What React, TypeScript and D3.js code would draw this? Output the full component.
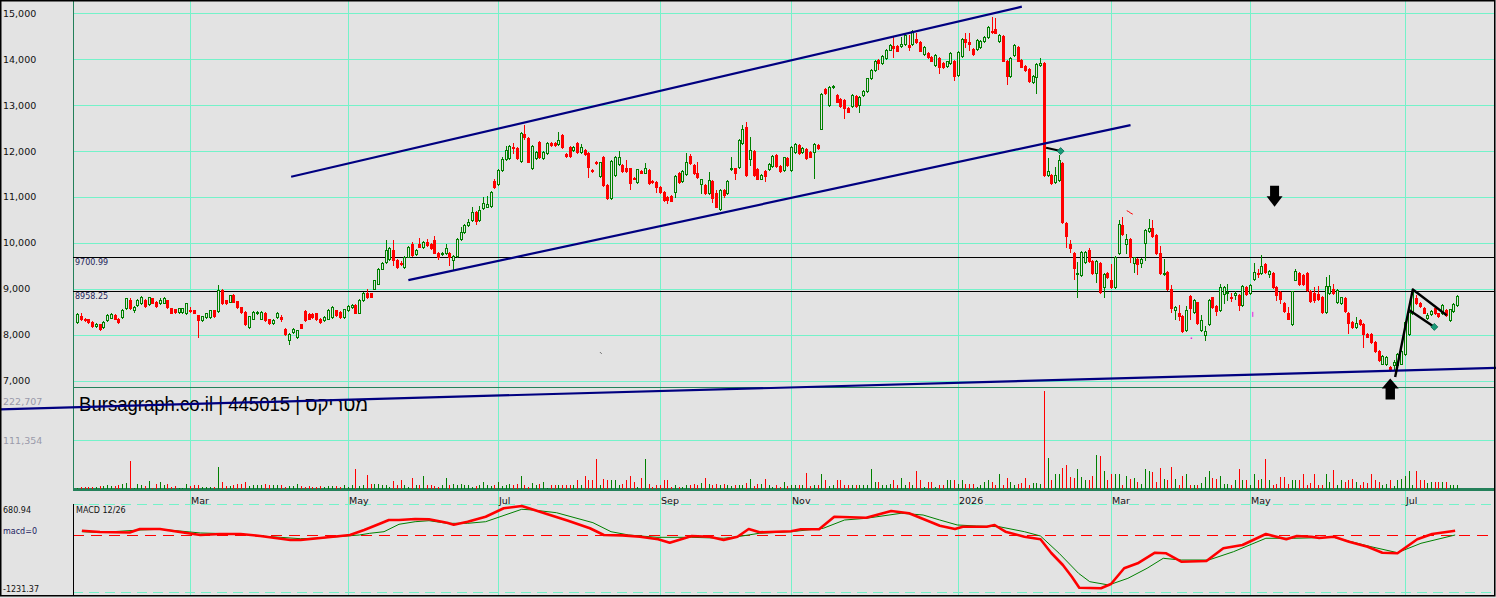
import React from "react";
import * as d3 from "d3";

// ---------- DATA ----------
// candle index where each month starts
const monthIdx = [30, 70, 110, 153, 188, 232, 273, 310, 351];
const monthLabels = ["Mar", "May", "Jul", "Sep", "Nov", "2026", "Mar", "May", "Jul"];
const priceTicks = [7000, 8000, 9000, 10000, 11000, 12000, 13000, 14000, 15000];
const levelLines = [9700.99, 8958.25];
const volTicks = [222707, 111354];
const macdTicks = [680.94, -1231.37];

const opens = [
  8280,8400,8350,8330,8280,8180,8230,8170,8310,8370, 8420,8350,8390,8570,8760,8530,8640,8680,8760,8660,
  8790,8710,8680,8690,8750,8570,8550,8500,8500,8460, 8530,8530,8420,8310,8390,8390,8530,8510,8970,8750,
  8710,8870,8730,8600,8500,8170,8350,8460,8350,8470, 8330,8260,8390,8390,8130,7880,8060,7950,8230,8520,
  8440,8440,8460,8350,8310,8350,8390,8530,8500,8390, 8530,8600,8640,8470,8750,8900,8900,9000,9110,9440,
  9590,9640,9850,9620,
  9560,9480,9700,9970,9750,9970,
  9910,10010,9970,10070,9780,9750,9770,9770,9620,9710, 10090,10240,10390,10490,10680,10490,10760,10790,10800,11340,
  11280,11580,11820,11840,12090,12060,11790,12380,12290,11620, 11840,12200,11840,11960,12170,12170,12150,12350,11930,12090,
  12020,12180,11980,12020,11950,11580,11770,11450,11880,11260, 10970,11480,11720,11690,11640,11620,11410,11330,11570,11530,
  11580,11340,11330,11210,11110,11000,11020,11110,11530,11350, 11500,11890,11690,11530,11280,11260,11090,11350,11080,10730,
  11160,11080,11600,11620,11660,12170,12530,
  11820,12000,11600,
  11400,11570,11610,11670,11910,11670,11580,11850,11580,11980, 12130,11980,12040,11980,11980,12130,12490,13350,13000,13390,
  13220,13130,13110,12940,12970,13200,13000,13220,13310,13580, 13760,13980,13910,14020,14210,14290,14290,14290,14340,14310,
  14330,14430,14370,14110,14140,14040,13870,14020,13910,13850, 13910,13970,13660,14070,14430,14380,14220,14220,14270,14400,
  14490,14620,14650,14400,14510,13970,13630,14090,14270,13980, 13850,13780,13510,13620,13870,13910,11480,11480,11330,11370,
  11740,
  10440,9970,9780,9320,9300,9590,9840,9610,9350,
  9560,9040,9350,9190,9040,9770,10380,9970,10090,9560, 9640,9550,10000,10260,10330,10170,9780,9310,9370,8990,
  8530,8470,8410,8100,8840,8500,8700,8100,7990,8230, 8810,8620,8530,8880,8900,8820,8860,8860,8640,9040,
  8900,9220,9350,9350,9540,9330,9350,9040,
  8930,8690,
  8470,8240,9200,9350,9300,9350,8950,8900,8880,8820, 8500,8900,9000,8710,8690,8790,8470,8280,8170,8310,
  8230,8020,8010,7840,7650,7370,7360,7300,7330,7330, 7370,7570,8020,8460,8790,8690,8590,8370,8440,8570,
  8460,8460,8530,8310,8520,8640,
];
const highs = [
  8460,8460,8370,8350,8290,8260,8240,8290,8440,8460, 8440,8370,8550,8800,8790,8620,8780,8840,8780,8830,
  8800,8730,8800,8810,8760,8580,8560,8580,8580,8690, 8600,8540,8430,8410,8470,8540,8540,9080,8990,8760,
  8870,8890,8740,8610,8510,8410,8510,8510,8510,8490, 8340,8330,8490,8420,8150,8040,8150,8110,8240,8530,
  8460,8460,8470,8360,8400,8550,8620,8540,8510,8560, 8640,8660,8660,8780,8930,9000,8910,9200,9460,9580,
  10060,9900,10060,9640,
  9600,9720,9930,10020,9860,10110,
  10040,10090,9990,10150,9800,9800,9970,9790,9740,10110, 10350,10400,10510,10790,10700,10800,11000,11020,11130,11400,
  11600,11880,12110,12120,12170,12080,12420,12570,12310,12120, 12000,12220,12000,12200,12200,12190,12420,12370,11950,12110,
  12110,12200,12160,12040,11970,11600,11790,11770,11900,11280, 11800,11890,12010,11710,11800,11640,11430,11610,11590,11730,
  11600,11360,11350,11230,11130,11020,11040,11470,11550,11590, 11950,11930,11710,11770,11400,11280,11550,11370,11150,11180,
  11180,11370,11880,11640,12270,12570,12640,
  12310,12020,11620,
  11490,11590,11730,11910,11930,11690,11880,11870,12100,12170, 12150,12080,12060,12000,12170,12150,13260,13370,13420,13430,
  13240,13150,13130,12960,13240,13220,13200,13330,13600,13780, 13990,14000,14090,14230,14330,14490,14310,14490,14540,14530,
  14640,14560,14390,14290,14160,14060,14110,14040,13930,13960, 14150,13990,14180,14470,14560,14560,14240,14440,14420,14510,
  14730,14930,14890,14550,14530,13990,14040,14330,14290,14000, 13870,13800,13650,13910,14020,13930,11840,11500,11650,11910,
  11760,
  10460,10070,9800,9590,9820,9820,9880,9630,9630,
  9580,9340,9370,9530,9720,10500,10570,10200,10110,9700, 9660,9660,10300,10510,10490,10190,9930,9640,9390,9080,
  8620,8640,8430,8630,8860,8770,8720,8420,8180,8770, 8830,8640,9100,9060,9110,8900,8950,8880,9080,9060,
  9100,9550,9440,9730,9560,9400,9370,9060,
  8950,8710,
  8600,8960,9440,9370,9320,9370,8970,9040,9050,8840, 9260,9300,9110,9000,8830,8810,8490,8300,8390,8330,
  8250,8040,8030,7860,7670,7550,7530,7310,7440,7590, 7660,8290,8500,8940,8860,8710,8610,8460,8530,8590,
  8480,8660,8550,8560,8680,8860,
];
const lows = [
  8260,8320,8300,8260,8170,8160,8100,8150,8300,8360, 8330,8260,8370,8560,8550,8500,8620,8660,8600,8640,
  8680,8600,8660,8680,8590,8460,8480,8480,8480,8440, 8500,8460,7950,8300,8370,8370,8380,8500,8660,8660,
  8700,8700,8590,8480,8200,8150,8340,8440,8340,8300, 8240,8240,8370,8290,8000,7790,8040,7930,8140,8300,
  8340,8360,8310,8260,8300,8340,8370,8410,8370,8370, 8520,8590,8460,8460,8730,8800,8810,8990,9100,9430,
  9570,9620,9510,9460,
  9520,9460,9680,9710,9730,9900,
  9890,9930,9860,9770,9650,9730,9750,9510,9420,9690, 10070,10220,10370,10470,10420,10470,10740,10770,10780,11200,
  11260,11560,11800,11820,11950,11820,11770,12270,11750,11600, 11820,11840,11820,11940,12100,12110,12130,12060,11870,11870,
  12000,11960,11960,11910,11440,11540,11710,11430,11240,10950, 10950,11460,11700,11550,11550,11180,11380,11310,11510,11510,
  11290,11310,11110,11090,10920,10860,10900,10990,11310,11330, 11480,11710,11490,11420,11090,11070,11070,10890,10770,10710,
  10990,11060,11580,11380,11640,12150,11460,
  11700,11460,11390,
  11380,11350,11590,11650,11650,11550,11560,11670,11560,11960, 11930,11960,11830,11860,11420,12040,12470,13240,12980,13370,
  13060,12950,12710,12840,12950,12950,12860,13200,13290,13560, 13740,13780,13890,14000,14190,14050,14170,14270,14320,14210,
  14310,14350,14170,14090,14020,13950,13850,13690,13800,13830, 13890,13550,13640,14050,14270,14210,14090,14200,14250,14380,
  14470,14560,14560,14380,13950,13460,13610,14070,13950,13820, 13740,13510,13490,13270,13850,11460,11460,11290,11310,11350,
  10440,
  9910,9800,9220,8820,9280,9570,9590,9330,9150,
  8910,8820,9240,9020,9020,9750,10180,9770,9590,9370, 9330,9480,9620,10240,10130,9760,9330,9290,8980,8500,
  8350,8310,8060,8080,8350,8480,8240,8080,7880,8210, 8590,8420,8510,8680,8750,8740,8770,8530,8620,8860,
  8880,9200,9260,9330,9350,9260,9020,8760,
  8690,8500,
  8330,8220,9180,9090,9080,8950,8710,8710,8750,8480, 8480,8880,8880,8690,8670,8500,8040,8150,8150,8210,
  7730,7940,7820,7630,7420,7350,7340,7210,7220,7310, 7350,7550,8000,8440,8660,8600,8460,8350,8420,8440,
  8380,8440,8400,8290,8500,8620,
];
const closes = [
  8440,8340,8330,8280,8190,8240,8130,8280,8420,8440, 8350,8280,8530,8790,8570,8600,8760,8820,8620,8810,
  8690,8620,8750,8790,8600,8470,8500,8570,8570,8680, 8510,8470,8310,8400,8460,8530,8400,8970,8680,8680,
  8860,8710,8600,8500,8240,8400,8500,8500,8500,8310, 8260,8310,8470,8350,8020,8020,8130,8100,8150,8310,
  8350,8380,8330,8280,8390,8530,8600,8420,8390,8550, 8620,8640,8470,8760,8910,8820,8820,9190,9440,9560,
  9850,9880,9620,9480,
  9540,9700,9910,9730,9840,9910,
  10020,9950,9880,9780,9700,9780,9880,9700,9720,10090, 10240,10390,10460,10680,10470,10710,10870,10840,11110,11220,
  11580,11820,12030,12110,12060,11840,12400,12310,11770,12110, 11980,11860,11980,12180,12140,12130,12250,12080,11890,11890,
  12090,11980,12080,11930,11660,11560,11730,11750,11260,10970, 11790,11880,11880,11570,11570,11310,11400,11600,11530,11620,
  11310,11330,11210,11110,10940,10930,10920,11450,11330,11570, 11770,11730,11510,11440,11380,11090,11370,10970,10790,11160,
  11040,11350,11620,11530,12250,12490,11480,
  12020,11480,11400,
  11480,11450,11720,11900,11670,11570,11860,11690,12080,12150, 11950,12060,11850,11870,12150,12060,13240,13260,13400,13410,
  13070,12970,12930,12860,13220,12970,13180,13310,13580,13760, 13970,13910,14070,14210,14310,14240,14180,14340,14530,14270,
  14620,14370,14180,14270,14040,13970,14090,13820,13820,13950, 14130,13630,14160,14450,14380,14330,14110,14420,14400,14490,
  14710,14590,14580,14530,13970,13630,14020,14310,13970,13840, 13760,13530,13630,13890,13920,11480,11560,11310,11480,11800,
  10460,
  10150,9880,9450,9340,9800,9800,9610,9350,9610,
  8930,9320,9260,9040,9700,10410,10200,10090,9680,9680, 9540,9640,10280,10330,10150,9780,9350,9350,9000,8570,
  8600,8410,8080,8530,8570,8750,8260,8310,8080,8750, 8610,8520,9040,9040,8930,8790,8900,8640,9060,8880,
  9080,9370,9330,9490,9370,9380,9040,8860,
  8770,8520,
  8350,8950,9390,9110,9110,8970,8740,8750,8770,8500, 9060,9060,8900,8980,8810,8520,8260,8170,8260,8230,
  8010,7950,7840,7650,7440,7530,7520,7220,7410,7570, 7650,8280,8500,8930,8680,8620,8470,8420,8510,8460,
  8400,8640,8420,8550,8660,8840,
];
// volume, thousands of shares
const volumes = [
  2,4,4,4,4,4,6,6,10,6, 6,8,12,14,64,2,12,10,6,19, 2,12,15,10,12,4,6,2,2,12, 6,10,10,4,4,4,4,49,17,6,
  6,8,12,12,17,6,10,8,8,12, 8,10,8,8,4,6,6,12,6,4, 6,4,4,6,4,6,6,6,4,10, 4,10,46,6,8,32,12,12,12,10, 10,4,19,8,
  20,10,4.5,26,10,10,29,8,10,6, 4.5,10,26,8,12,8,12,10,10,4.5, 6,8,17,8,6,10,15,6,8,12, 10,12,29,8,4.5,14,10,12,15,2,
  8,10,8,10,8,8,8,20,10,30, 21,20,69,10,23,21,20,21,8,12, 20,30,17,4.5,25,69,12,4.5,8,8, 21,20,4.5,8,4.5,4.5,8,8,12,10,
  14,25,12,8,12,8,12,8,6,8, 10,8,14,23,6,12,12,23,8,4.5, 8,4.5,15,6,8,8,8,10,36,6, 8,8,33,21,6,10,20,21,8,8,
  8,8,8,8,8,45,15,15,10,8, 12,21,8,25,8,15,8,42,21,4.5, 17,17,4.5,10,
  8,21,21,20,12,21,12,12,12,4.5, 8,17,20,17,10,35,10,25,17,8, 12,14,25,10,14,14,12,223,70,20, 35,35,48,55,27,25,45,27,20,20,
  30,78,74,40,21,33,33,33,8,29, 23,25,17,12,45,42,38,17,48,23, 20,50,23,10,29,33,8,8,8,14, 27,40,25,23,30,12,12,8,20,45,
  20,21,8,35,20,23,68,21,10,12, 27,27,12,20,21,21,33,8,14,33, 8,8,35,17,44,8,21,17,20,23, 17,8,17,14,33,20,17,8,12,21,
  6,20,23,30,40,8,40,20,21,14, 17,17,15,17,17,8,10,8,
];

// MACD 12/26 (red) and its signal (green), read at candle positions
const macdIdx = [1.3,6.1,14,16.7,22,27.3,32.6,37.7,42.8,47.8,55.4,58,63,68.1,70.5,74.3,78.3,80.9,83.6,87.9,91.6,96.4,98.2,101.9,106.7,111.5,116.3,121.1,128.6,134.4,138.1,143,147.7,152.5,155.6,161.5,166.3,170,173.7,176.7,179.6,188,190.6,195.4,199.4,207.8,214.4,219.1,225.6,227.2,231.2,233.3,239.7,241.8,244.7,249.8,254.1,257,260.1,262.5,264.5,270.3,273,276.5,280.1,284.7,287.7,291.7,298.4,302.9,308,314.2,319.6,322.4,326.3,328.3,332.2,336.2,341.1,345,349,354.3,358.3,364.5];
const macdVal = [101,72,61,138,138,72,7,29,29,-14,-101,-101,-58,-14,7,116,246,333,333,355,348,275,231,296,405,588,637,514,318,153,7,0,-30,-86,-160,-14,-30,-101,-30,138,66,88,131,131,405,383,529,479,261,209,138,188,188,225,79,-30,-86,-384,-645,-900,-1140,-1150,-1058,-716,-608,-377,-390,-573,-558,-282,-210,29,-86,-14,-30,-58,-30,-138,-247,-377,-390,-86,29,101];
const sigIdx = [1.3,6.1,16.7,22,27.3,32.6,42.8,47.8,58,63,68.1,73,75.8,79.6,83.6,87.9,91.6,96.4,101.9,106.7,116.3,119.2,125.5,135.2,140,144.7,152.2,161.5,170,173.7,179.5,188,196.5,202.1,207.8,217,222.8,227.2,231.8,236.9,243,249.8,254.1,259.1,264.3,267.3,272.4,277.5,282.6,286.9,291.7,299,305.6,314.2,321.6,332.2,342,349,355.3,364.5];
const sigVal = [79,61,116,131,94,51,29,-14,-73,-58,-25,7,44,79,240,296,318,261,261,296,566,551,492,275,79,7,-43,-43,-64,-30,44,79,153,333,370,479,442,333,225,203,188,79,-14,-390,-825,-1007,-1079,-934,-716,-499,-536,-536,-356,-64,-64,-43,-247,-377,-173,7];

// drawn trendlines: [candle index, price]
const channelTop = [[55.6, 11438], [249.1, 15144]];
const channelBottom = [[86.1, 9186], [278.2, 12565]];
const supportLine = [[0, 6419], [365, 7250]];
const flagPole = [[348.4, 7078], [353.1, 8983], [362.2, 8423]];
const flagLower = [[352.2, 8532], [358.9, 8168]];
const shortLine = [[255.6, 12070], [259.5, 11998]];
const arrowDown = [316.5, 10784];
const arrowUp = [347.1, 7043];

// ---------- LAYOUT ----------
const W = 1496, H = 598;
const L = 73, R = 1494;
const X_ANCHORS = [77, 190, 348, 498, 660, 791, 958, 1111, 1250, 1405, 1457];
const BG = "#e3e3e3";
const GRID = "#74f2c9";
const AXIS_GREEN = "#24805a";
const UP = "#008000";
const DOWN = "#ff0000";
const NAVY = "#000080";
const FONT = "'DejaVu Sans', sans-serif";

export default function App() {
  const n = Math.min(opens.length, highs.length, lows.length, closes.length);
  const x = d3.scaleLinear().domain([0, ...monthIdx, n - 1]).range(X_ANCHORS);
  const y = d3.scaleLinear().domain([7000, 15000]).range([380.5, 13.3]);
  const yv = d3.scaleLinear().domain([0, 222.707]).range([489, 391]);
  const ym = d3.scaleLinear().domain([-1231.37, 680.94]).range([592, 504]);

  const candles = [];
  const vols = [];
  for (let i = 0; i < n; i++) {
    const o = opens[i], c = closes[i], h = highs[i], l = lows[i];
    const up = c >= o;
    const p = Math.round(x(i));
    const top = Math.round(y(Math.max(o, c)));
    let bot = Math.round(y(Math.min(o, c)));
    if (bot <= top) bot = top + 1;
    const hi = Math.round(y(h));
    const lo = Math.round(y(l));
    if (up) {
      candles.push(
        <g key={i} stroke={UP}>
          {hi < top && <line x1={p + 0.5} x2={p + 0.5} y1={hi} y2={top} />}
          {lo > bot && <line x1={p + 0.5} x2={p + 0.5} y1={bot + 1} y2={lo + 1} />}
          <rect x={p - 0.5} y={top + 0.5} width={2} height={bot - top} fill={BG} strokeWidth={1} />
        </g>
      );
    } else {
      candles.push(
        <g key={i}>
          <line x1={p + 0.5} x2={p + 0.5} y1={hi} y2={lo + 1} stroke={DOWN} />
          <rect x={p - 1} y={top} width={3} height={bot - top + 1} fill={DOWN} />
        </g>
      );
    }
    const v = volumes[i] ?? 0;
    vols.push(
      <line key={i} x1={p + 0.5} x2={p + 0.5} y1={yv(0)} y2={Math.round(yv(v))}
        stroke={up ? UP : DOWN} strokeWidth={1} />
    );
  }

  const px = (d) => [x(d[0]), y(d[1])];
  const lineGen = d3.line().x((d) => x(d[0])).y((d) => y(d[1]));
  const macdPts = macdIdx.map((v, i) => [v, macdVal[i]]);
  const sigPts = sigIdx.map((v, i) => [v, sigVal[i]]);
  const mline = d3.line().x((d) => x(d[0])).y((d) => ym(d[1]));

  // support line extended across whole picture
  const [s0, s1] = supportLine.map(px);
  const slope = (s1[1] - s0[1]) / (s1[0] - s0[0]);
  const supY = (xx) => s0[1] + (xx - s0[0]) * slope;

  const diamond = (d, k) => {
    const [cx, cy] = px(d);
    return (
      <path key={k} d={`M${cx},${cy - 3.5}L${cx + 3.5},${cy}L${cx},${cy + 3.5}L${cx - 3.5},${cy}Z`}
        fill="#1a9a78" stroke="#0c6a52" strokeWidth={0.8} />
    );
  };

  const [adx, ady] = px(arrowDown);
  const [aux, auy] = px(arrowUp);

  return (
    <div style={{ width: W, height: H, overflow: "hidden" }}>
      <style>{`html,body{margin:0;padding:0;background:${BG};}`}</style>
      <svg width={W} height={H} viewBox={`0 0 ${W} ${H}`} style={{ display: "block" }}>
        <rect x={0} y={0} width={W} height={H} fill={BG} />

        {/* price gridlines */}
        <g stroke={GRID} strokeWidth={1} shapeRendering="crispEdges">
          {priceTicks.map((t) => (
            <line key={t} x1={L} x2={R} y1={Math.round(y(t)) + 0.5} y2={Math.round(y(t)) + 0.5} />
          ))}
          <line x1={L} x2={R} y1={Math.round(yv(111.354)) + 0.5} y2={Math.round(yv(111.354)) + 0.5} />
          {monthIdx.map((m) => (
            <line key={m} x1={Math.round(x(m)) + 0.5} x2={Math.round(x(m)) + 0.5} y1={1} y2={595} />
          ))}
        </g>
        {/* macd dashed frame lines */}
        <g strokeWidth={1} shapeRendering="crispEdges">
          {macdTicks.map((t) => (
            <line key={t} x1={L} x2={R} y1={Math.round(ym(t)) + 0.5} y2={Math.round(ym(t)) + 0.5}
              stroke={GRID} strokeDasharray="10,6" />
          ))}
          <line x1={L} x2={R} y1={Math.round(ym(0)) + 0.5} y2={Math.round(ym(0)) + 0.5}
            stroke={DOWN} strokeDasharray="11,7" />
        </g>

        {/* panel frames */}
        <g shapeRendering="crispEdges">
          <line x1={L + 0.5} x2={L + 0.5} y1={0} y2={490} stroke={AXIS_GREEN} strokeWidth={1} />
          <line x1={L} x2={R} y1={387.5} y2={387.5} stroke={AXIS_GREEN} strokeWidth={1} />
          <line x1={L} x2={R} y1={489.5} y2={489.5} stroke={AXIS_GREEN} strokeWidth={2.5} />
          <line x1={L + 0.5} x2={L + 0.5} y1={504} y2={596} stroke="#000" strokeWidth={1} />
        </g>

        {/* level lines */}
        <g>
          {levelLines.map((v) => (
            <g key={v}>
              <line x1={L} x2={R} y1={Math.round(y(v)) + 0.5} y2={Math.round(y(v)) + 0.5}
                stroke="#000" strokeWidth={1.2} shapeRendering="crispEdges" />
              <text x={75} y={y(v) + 6} fontFamily={FONT} fontSize={8} fill="#24245a"
                dominantBaseline="central">{v.toFixed(2)}</text>
            </g>
          ))}
        </g>

        {/* volume */}
        <g shapeRendering="crispEdges">{vols}</g>

        {/* candles */}
        <g shapeRendering="crispEdges">{candles}</g>

        {/* title */}
        <text x={79} y={411} fontFamily="'Liberation Sans', Arial, sans-serif" fontSize={19.5}
          fill="#000" textLength={289} lengthAdjust="spacingAndGlyphs">
          Bursagraph.co.il | 445015 | מטריקס
        </text>

        {/* channel lines */}
        <g stroke={NAVY} strokeWidth={2.2} fill="none">
          <path d={lineGen(channelTop)} />
          <path d={lineGen(channelBottom)} />
          <line x1={0} y1={supY(0)} x2={W} y2={supY(W)} />
        </g>

        {/* pattern lines */}
        <g stroke="#000" strokeWidth={2.4} fill="none" strokeLinejoin="round">
          <path d={lineGen(flagPole)} />
          <path d={lineGen(flagLower)} />
          <path d={lineGen(shortLine)} strokeWidth={2} />
        </g>
        {diamond(flagLower[1], "d1")}
        {diamond(shortLine[1], "d2")}

        {/* small marks */}
        <path d={`M${x(277.2)},${y(10700)}l2,1l2,1.5l2,1`} stroke={DOWN} strokeWidth={1} fill="none" />
        <line x1={x(310.6) + 0.5} x2={x(310.6) + 0.5} y1={y(8495)} y2={y(8386)} stroke="#e020e0" strokeWidth={1} />
        <rect x={x(294.2)} y={y(7937)} width={1.5} height={1.5} fill="#e020e0" />
        <path d={`M${x(137.1)},${y(7616)}l1.5,1.5`} stroke="#555" strokeWidth={1} />

        {/* arrows */}
        <path d={`M${adx - 4.5},${ady - 21}H${adx + 4.5}V${ady - 10.5}H${adx + 8}L${adx},${ady}L${adx - 8},${ady - 10.5}H${adx - 4.5}Z`} fill="#000" />
        <path d={`M${aux},${auy}L${aux + 8.5},${auy + 10}H${aux + 4.7}V${auy + 21}H${aux - 4.7}V${auy + 10}H${aux - 8.5}Z`} fill="#000" />

        {/* MACD */}
        <path d={mline(sigPts)} stroke={UP} strokeWidth={1} fill="none" />
        <path d={mline(macdPts)} stroke={DOWN} strokeWidth={2.6} fill="none" strokeLinejoin="round" />

        {/* axis labels */}
        <g fontFamily={FONT} fontSize={9.5} fill="#111">
          {priceTicks.map((t) => (
            <text key={t} x={3} y={y(t)} dominantBaseline="central">{d3.format(",")(t)}</text>
          ))}
          {monthIdx.map((m, i) => (
            <text key={m} x={Math.round(x(m)) + 1} y={500} dominantBaseline="central">{monthLabels[i]}</text>
          ))}
        </g>
        <g fontFamily={FONT} fontSize={9.5} fill="#9a9aaa">
          <text x={3} y={401.5} dominantBaseline="central">{d3.format(",")(volTicks[0])}</text>
          <text x={3} y={440} dominantBaseline="central">{d3.format(",")(volTicks[1])}</text>
        </g>
        <g fontFamily={FONT} fontSize={8} fill="#111">
          <text x={3} y={510} dominantBaseline="central">{macdTicks[0].toFixed(2)}</text>
          <text x={3} y={531} dominantBaseline="central" fill="#1a1a60">macd=0</text>
          <text x={3} y={589} dominantBaseline="central">{macdTicks[1].toFixed(2)}</text>
          <text x={76} y={510} dominantBaseline="central">MACD 12/26</text>
        </g>

        {/* outer frame */}
        <rect x={0.75} y={0.75} width={1494} height={595} fill="none" stroke="#000" strokeWidth={1.5} />
      </svg>
    </div>
  );
}
